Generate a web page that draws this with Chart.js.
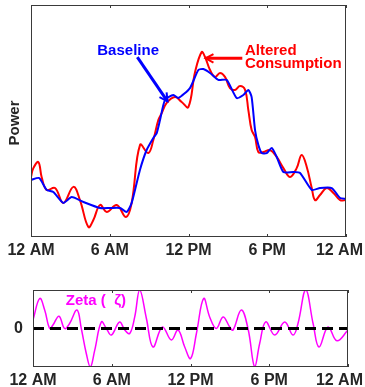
<!DOCTYPE html>
<html>
<head>
<meta charset="utf-8">
<script src="https://cdn.jsdelivr.net/npm/chart.js@4.4.1/dist/chart.umd.min.js"></script>
<style>
  html, body { margin: 0; padding: 0; background: #fff; }
  #wrap { position: relative; width: 365px; height: 387px; overflow: hidden; }
  #powerChart { position: absolute; left: 0; top: 0; }
  #zetaChart { position: absolute; left: 0; top: 275px; }
</style>
</head>
<body>
<div id="wrap">
  <canvas id="powerChart" width="365" height="265"></canvas>
  <canvas id="zetaChart" width="365" height="112"></canvas>
</div>
<script>
// x axis ticks (hours of the day)
const hourTicks = [0, 6, 12, 18, 24];
const tickLabels = ['12 AM', '6 AM', '12 PM', '6 PM', '12 AM'];

// baseline power (blue)
const baselineHours = [0, 0.63, 1.19, 1.70, 2.46, 3.10, 3.99, 5.26, 6.02, 6.78, 7.29, 7.67, 8.30, 8.81, 9.32, 9.58, 9.83, 10.21, 10.85, 11.23, 12.11, 12.75, 13.13, 13.64, 14.27, 14.91, 15.67, 16.18, 16.56, 16.81, 17.07, 17.32, 17.58, 17.96, 18.34, 18.72, 19.23, 19.99, 20.50, 21.39, 22.02, 22.91, 23.55, 24];
const baselinePower = [24.6, 25.4, 20.3, 19.4, 14.7, 17.2, 15.1, 12.5, 12.5, 12.5, 10.8, 14.7, 28.9, 37.5, 42.7, 44.8, 50.4, 59.1, 61.2, 59.9, 64.2, 72.0, 72.4, 70.7, 67.7, 67.7, 59.9, 61.2, 63.4, 60.3, 46.1, 39.7, 36.2, 36.2, 38.4, 34.5, 28.0, 28.0, 27.6, 20.3, 21.1, 21.1, 16.8, 16.4];

// altered consumption (red)
const alteredHours = [0, 0.18, 0.56, 0.81, 1.19, 1.83, 2.46, 3.23, 3.73, 4.37, 4.75, 5.26, 5.77, 6.53, 7.24, 7.67, 8.31, 8.94, 9.32, 9.70, 9.96, 10.34, 10.97, 11.48, 11.99, 12.50, 13.00, 13.26, 13.64, 14.02, 14.40, 14.78, 15.16, 15.54, 15.93, 16.31, 16.56, 16.81, 17.07, 17.32, 17.70, 18.21, 18.72, 19.23, 19.74, 20.24, 20.62, 21.01, 21.39, 21.64, 22.02, 22.53, 23.04, 23.55, 24];
const alteredPower = [25.9, 29.7, 32.3, 25.9, 20.3, 21.1, 14.7, 21.6, 15.9, 4.3, 7.3, 13.8, 10.8, 13.8, 8.6, 14.7, 39.7, 36.2, 41.8, 50.4, 53.4, 57.8, 60.3, 58.2, 56.0, 71.1, 79.7, 77.6, 72.0, 69.0, 70.7, 69.0, 64.2, 63.4, 65.1, 63.4, 54.7, 46.1, 43.1, 36.6, 36.6, 37.5, 34.5, 29.7, 25.9, 29.7, 35.3, 30.2, 21.1, 15.9, 18.1, 21.1, 19.0, 15.9, 15.9];

// zeta (magenta), lower panel
const zetaHours = [0, 0.51, 0.89, 1.27, 1.52, 1.98, 2.41, 2.79, 3.35, 3.68, 4.06, 4.37, 4.70, 5.21, 5.59, 5.97, 6.60, 6.99, 7.37, 7.75, 8.13, 8.64, 9.14, 9.86, 10.54, 11.05, 11.56, 12.01, 12.45, 13.00, 13.46, 13.97, 14.48, 14.99, 15.24, 15.87, 16.38, 16.89, 17.27, 17.73, 18.42, 19.18, 19.81, 20.19, 20.78, 21.34, 21.79, 22.48, 23.16, 24];
const zetaValues = [0.22, 0.78, 0.48, 0, 0.09, 0.32, 0.0, 0.13, 0.48, 0, -0.65, -1.0, -0.57, 0.17, 0, -0.17, 0.17, -0.04, -0.13, 0.30, 1.0, 0.26, -0.48, 0.04, -0.30, -0.04, -0.48, -0.78, -0.13, 0.78, 0.30, 0, 0.30, 0.04, -0.04, 0.48, 0, -1.0, -0.39, 0.17, -0.17, 0.17, -0.17, 0.13, 1.0, 0.13, -0.48, 0.04, -0.32, -0.04];

const FONT = 'bold 15px "Liberation Sans", Arial, sans-serif';
const TICK_FONT = 'bold 16px "Liberation Sans", Arial, sans-serif';

function toPoints(xs, ys) {
    return xs.map((x, i) => ({ x: x, y: ys[i] }));
}

// draws the box, inward ticks, tick labels and annotations
const framePlugin = {
    id: 'frame',
    afterDatasetsDraw(chart, args, opts) {
        const ctx = chart.ctx;
        const area = chart.chartArea;
        const xs = chart.scales.x;
        const ys = chart.scales.y;
        ctx.save();

        // axes box
        ctx.strokeStyle = '#3a3a3a';
        ctx.lineWidth = 1;
        ctx.strokeRect(area.left + 0.5, area.top + 0.5, area.right - area.left - 1, area.bottom - area.top - 1);

        // tick marks pointing inward, bottom and top
        hourTicks.forEach(h => {
            const px = Math.round(xs.getPixelForValue(h)) + 0.5;
            ctx.beginPath();
            ctx.moveTo(px, area.bottom);
            ctx.lineTo(px, area.bottom - 3);
            ctx.moveTo(px, area.top);
            ctx.lineTo(px, area.top + 3);
            ctx.stroke();
        });

        // tick labels, end ones kept inside the canvas
        ctx.font = TICK_FONT;
        ctx.fillStyle = '#262626';
        ctx.textBaseline = 'middle';
        ctx.textAlign = 'center';
        hourTicks.forEach((h, i) => {
            const w = ctx.measureText(tickLabels[i]).width;
            let px = xs.getPixelForValue(h);
            px = Math.max(w / 2 + 2, Math.min(chart.width - w / 2 - 2, px));
            ctx.fillText(tickLabels[i], px, area.bottom + opts.labelGap);
        });

        ctx.font = FONT;
        if (opts.yTitle) {
            ctx.save();
            ctx.translate(15, (area.top + area.bottom) / 2 + 2);
            ctx.rotate(-Math.PI / 2);
            ctx.fillText(opts.yTitle, 0, 0);
            ctx.restore();
        }
        if (opts.zeroLabel) {
            ctx.font = TICK_FONT;
            ctx.textAlign = 'right';
            ctx.fillText('0', area.left - 10, ys.getPixelForValue(0));
            ctx.font = FONT;
        }

        (opts.arrows || []).forEach(a => {
            const x1 = xs.getPixelForValue(a.from[0]), y1 = ys.getPixelForValue(a.from[1]);
            const x2 = xs.getPixelForValue(a.to[0]), y2 = ys.getPixelForValue(a.to[1]);
            const ang = Math.atan2(y2 - y1, x2 - x1);
            ctx.strokeStyle = a.color;
            ctx.lineWidth = 3;
            ctx.beginPath();
            ctx.moveTo(x1, y1);
            ctx.lineTo(x2, y2);
            ctx.stroke();
            ctx.lineWidth = 2;
            ctx.beginPath();
            ctx.moveTo(x2 - 9 * Math.cos(ang - 0.5), y2 - 9 * Math.sin(ang - 0.5));
            ctx.lineTo(x2, y2);
            ctx.lineTo(x2 - 9 * Math.cos(ang + 0.5), y2 - 9 * Math.sin(ang + 0.5));
            ctx.stroke();
        });

        (opts.notes || []).forEach(n => {
            ctx.fillStyle = n.color;
            ctx.textAlign = 'left';
            ctx.textBaseline = 'alphabetic';
            const px = xs.getPixelForValue(n.at[0]);
            const py = ys.getPixelForValue(n.at[1]);
            n.lines.forEach((line, i) => ctx.fillText(line, px, py + i * 13));
        });
        ctx.restore();
    }
};

const hiddenScales = (ymin, ymax) => ({
    x: { type: 'linear', min: 0, max: 24, display: false },
    y: { type: 'linear', min: ymin, max: ymax, display: false }
});

new Chart(document.getElementById('powerChart'), {
    type: 'line',
    data: {
        datasets: [{
            label: 'Baseline',
            data: toPoints(baselineHours, baselinePower),
            borderColor: '#0000ff',
            borderWidth: 2,
            pointRadius: 0,
            tension: 0.2
        }, {
            label: 'Altered Consumption',
            data: toPoints(alteredHours, alteredPower),
            borderColor: '#ff0000',
            borderWidth: 2,
            pointRadius: 0,
            tension: 0.4
        }]
    },
    options: {
        responsive: false,
        animation: false,
        layout: { padding: { left: 31, right: 19, top: 5, bottom: 28 } },
        scales: hiddenScales(0, 100),
        plugins: {
            legend: { display: false },
            tooltip: { enabled: false },
            frame: {
                labelGap: 14,
                yTitle: 'Power',
                arrows: [
                    { from: [8.1, 77.5], to: [10.4, 58.5], color: '#0000ff' },
                    { from: [16.1, 77], to: [13.3, 77], color: '#ff0000' }
                ],
                notes: [
                    { at: [5.05, 78.5], lines: ['Baseline'], color: '#0000ff' },
                    { at: [16.3, 78.5], lines: ['Altered', 'Consumption'], color: '#ff0000' }
                ]
            }
        }
    },
    plugins: [framePlugin]
});

new Chart(document.getElementById('zetaChart'), {
    type: 'line',
    data: {
        datasets: [{
            label: 'Zeta',
            data: toPoints(zetaHours, zetaValues),
            borderColor: '#ff00ff',
            borderWidth: 1.5,
            pointRadius: 0,
            tension: 0.4,
            order: 1
        }, {
            label: 'zero',
            data: [{ x: 0, y: 0 }, { x: 24, y: 0 }],
            borderColor: '#000000',
            borderWidth: 3,
            borderDash: [11, 6],
            pointRadius: 0,
            order: 0
        }]
    },
    options: {
        responsive: false,
        animation: false,
        layout: { padding: { left: 33, right: 17, top: 15, bottom: 20 } },
        scales: hiddenScales(-1, 1),
        plugins: {
            legend: { display: false },
            tooltip: { enabled: false },
            frame: {
                labelGap: 14,
                zeroLabel: true,
                notes: [
                    { at: [2.5, 0.62], lines: ['Zeta (  \u03b6)'], color: '#ff00ff' }
                ]
            }
        }
    },
    plugins: [framePlugin]
});
</script>
</body>
</html>
